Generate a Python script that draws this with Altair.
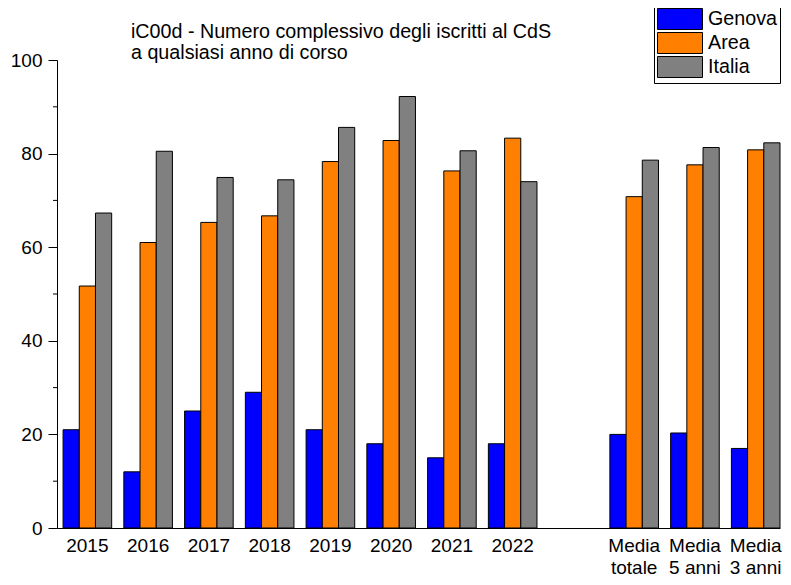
import altair as alt
import pandas as pd

categories = ["2015", "2016", "2017", "2018", "2019", "2020", "2021", "2022",
              "Media totale", "Media 5 anni", "Media 3 anni"]
gap_slot = [""]
series = ["Genova", "Area", "Italia"]
genova = [21.0, 12.0, 25.0, 29.0, 21.0, 18.0, 15.0, 18.0, 20.0, 20.3, 17.0]
area = [51.7, 61.0, 65.3, 66.7, 78.3, 82.8, 76.3, 83.3, 70.8, 77.6, 80.8]
italia = [67.3, 80.5, 74.9, 74.4, 85.6, 92.2, 80.6, 74.0, 78.6, 81.3, 82.3]
colors = ["#0000FF", "#FF8000", "#808080"]
y_ticks = [0, 20, 40, 60, 80, 100]
y_minor = [10, 30, 50, 70, 90]
title_lines = ["iC00d - Numero complessivo degli iscritti al CdS",
               "a qualsiasi anno di corso"]

rows = []
for name, vals in zip(series, [genova, area, italia]):
    for c, v in zip(categories, vals):
        rows.append({"cat": c, "serie": name, "val": v})
df = pd.DataFrame(rows)
minor_df = pd.DataFrame({"val": y_minor})

x_domain = categories[:8] + gap_slot + categories[8:]
FONT = "Liberation Sans"
FS = 19

y_scale = alt.Scale(domain=[0, 100], nice=False)
y_axis = alt.Axis(title=None, values=y_ticks, grid=False, tickSize=9,
                  tickColor="black", domainColor="black", labelFontSize=FS,
                  labelFont=FONT, labelColor="black", labelPadding=6)

bars = alt.Chart(df).mark_bar(stroke="black", strokeWidth=1).encode(
    x=alt.X("cat:N", sort=x_domain,
            scale=alt.Scale(domain=x_domain, paddingInner=0.2, paddingOuter=0.05, align=1),
            axis=alt.Axis(title=None, labelAngle=0, ticks=False, domainColor="black",
                          domainWidth=1, labelFontSize=FS, labelFont=FONT,
                          labelColor="black", labelPadding=8, labelBaseline="top",
                          labelLineHeight=22,
                          labelExpr="indexof(datum.label, 'Media ') == 0 ? ['Media', substring(datum.label, 6)] : datum.label")),
    xOffset=alt.XOffset("serie:N", sort=series, scale=alt.Scale(domain=series, paddingInner=0, paddingOuter=0)),
    y=alt.Y("val:Q", scale=y_scale, axis=y_axis),
    color=alt.Color("serie:N", sort=series,
                    scale=alt.Scale(domain=series, range=colors),
                    legend=alt.Legend(title=None, orient="none", legendX=597, legendY=-55,
                                      strokeColor="black", padding=3,
                                      symbolType="M-2.143,-1H2.143V1H-2.143Z",
                                      symbolSize=441, symbolStrokeColor="black",
                                      symbolStrokeWidth=1, symbolOffset=12,
                                      labelOffset=17, labelFontSize=19.7, labelFont=FONT,
                                      labelColor="black", rowPadding=-2)),
)

minor = alt.Chart(minor_df).mark_rule(color="black", strokeWidth=1).encode(
    y=alt.Y("val:Q", scale=y_scale, axis=y_axis),
    x=alt.value(-4),
    x2=alt.value(0),
)

chart = alt.layer(bars, minor).properties(
    width=723,
    height=468,
    padding={"left": 49, "top": 52, "right": 3, "bottom": 49},
    autosize=alt.AutoSizeParams(type="none"),
    title=alt.TitleParams(text=title_lines, anchor="start", frame="group", dx=74, dy=74,
                          baseline="alphabetic", fontSize=19.7, fontWeight="normal",
                          font=FONT, color="black", lineHeight=21, offset=0),
).configure_view(stroke=None)

chart.save("out.html", embed_options={"renderer": "svg", "actions": False})
